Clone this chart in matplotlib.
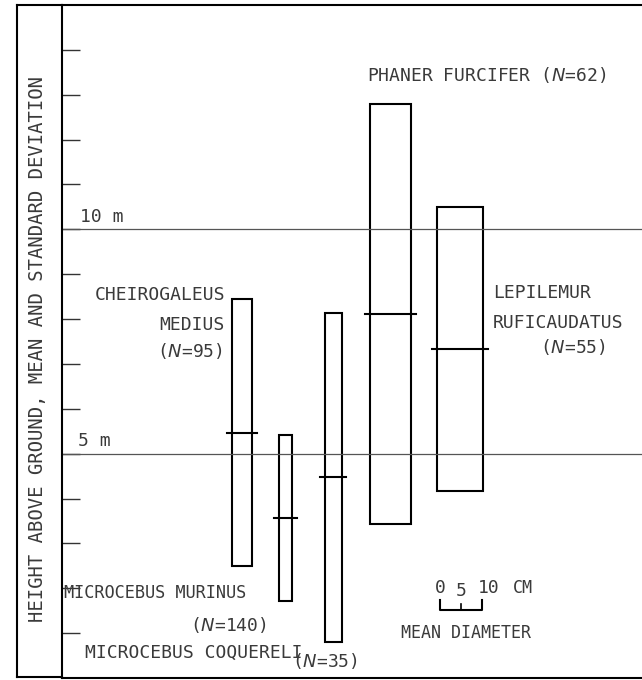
import matplotlib
matplotlib.use("Agg")
from matplotlib import pyplot as plt
from matplotlib.lines import Line2D
from matplotlib.patches import Rectangle

# %%
# height above ground (m): mean and standard deviation, mean trunk diameter (cm)
species = ["CHEIROGALEUS MEDIUS", "MICROCEBUS MURINUS", "MICROCEBUS COQUERELI",
           "PHANER FURCIFER", "LEPILEMUR RUFICAUDATUS"]
n_obs = [95, 140, 35, 62, 55]
mean_height = [5.47, 3.56, 4.47, 8.11, 7.33]
sd_height = [2.97, 1.85, 3.67, 4.68, 3.17]
diameter_cm = [4.8, 3.1, 4.0, 9.8, 11.0]

# horizontal placement of each box (cm from the axis, layout only)
box_x = [42.9, 53.2, 64.6, 78.2, 94.8]

FONT = "DejaVu Sans Mono"
TXT = "#3a3a3a"
FS = 13

plt.rcParams["font.family"] = [FONT, "DejaVu Sans"]

fig = plt.figure(figsize=(6.42, 6.80), dpi=100)
W, H = 642, 680
ax = fig.add_axes([62 / W, 1 - 678 / H, (W - 62) / W, (678 - 5) / H])
ax.set_xlim(0, 580 / 4.2)
ax.set_ylim(0, 15)

for side in ["left", "top", "bottom"]:
    ax.spines[side].set_linewidth(1.5)
ax.spines["right"].set_visible(False)
ax.set_xticks([])
ax.set_yticks(range(1, 15))
ax.set_yticklabels([])
ax.tick_params(axis="y", direction="in", length=13, width=1.0, color="#333")

# reference lines at 5 m and 10 m
for h in [5, 10]:
    ax.axhline(h, color="#555", lw=0.9)
ax.text(4.3, 10.08, "10 m", fontsize=FS, color=TXT, va="bottom", ha="left")
ax.text(3.8, 5.08, "5 m", fontsize=FS, color=TXT, va="bottom", ha="left")

# boxes: mean +/- sd, width = mean diameter
for x, m, s, d in zip(box_x, mean_height, sd_height, diameter_cm):
    ax.add_patch(Rectangle((x - d / 2, m - s), d, 2 * s, fill=False,
                           ec="black", lw=1.5))
    ax.plot([x - d / 2 - 1.1, x + d / 2 + 1.1], [m, m], color="black", lw=1.5)

# species labels
ax.text(72.6, 13.45, r"PHANER FURCIFER ($\mathit{N}$=62)", fontsize=FS,
        color=TXT, ha="left", va="center")
ax.text(38.8, 8.54, "CHEIROGALEUS", fontsize=FS, color=TXT, ha="right", va="center")
ax.text(38.8, 7.87, "MEDIUS", fontsize=FS, color=TXT, ha="right", va="center")
ax.text(38.4, 7.29, r"($\mathit{N}$=95)", fontsize=FS, color=TXT, ha="right", va="center")
ax.text(102.6, 8.58, "LEPILEMUR", fontsize=FS, color=TXT, ha="left", va="center")
ax.text(102.6, 7.91, "RUFICAUDATUS", fontsize=FS, color=TXT, ha="left", va="center")
ax.text(113.8, 7.38, r"($\mathit{N}$=55)", fontsize=FS, color=TXT, ha="left", va="center")
ax.text(0.5, 1.89, "MICROCEBUS MURINUS", fontsize=12.2, color=TXT, ha="left", va="center")
ax.text(30.5, 1.18, r"($\mathit{N}$=140)", fontsize=FS, color=TXT, ha="left", va="center")
ax.text(5.5, 0.56, "MICROCEBUS COQUERELI", fontsize=FS, color=TXT, ha="left", va="center")
ax.text(54.8, 0.38, r"($\mathit{N}$=35)", fontsize=FS, color=TXT, ha="left", va="center")

# diameter scale bar (0-10 cm)
bar_y, bar_top = 1.52, 1.74
ax.plot([90, 90, 100, 100], [bar_top, bar_y, bar_y, bar_top], color="black", lw=1.5)
ax.plot([95, 95], [bar_y, 1.64], color="black", lw=1.2)
ax.text(90, 2.0, "0", fontsize=FS, color=TXT, ha="center", va="center")
ax.text(95, 1.93, "5", fontsize=FS, color=TXT, ha="center", va="center")
ax.text(101.6, 2.0, "10", fontsize=FS, color=TXT, ha="center", va="center")
ax.text(107.4, 2.0, "CM", fontsize=FS - 1, color=TXT, ha="left", va="center")
ax.text(96.2, 1.0, "MEAN DIAMETER", fontsize=FS - 1, color=TXT, ha="center", va="center")

# outer frame holding the axis title
fig.lines.append(Line2D([17 / W, 17 / W], [1 - 677 / H, 1 - 5 / H],
                        transform=fig.transFigure, color="black", lw=1.5))
fig.lines.append(Line2D([17 / W, 62 / W], [1 - 5 / H, 1 - 5 / H],
                        transform=fig.transFigure, color="black", lw=1.5))
fig.lines.append(Line2D([17 / W, 62 / W], [1 - 677 / H, 1 - 677 / H],
                        transform=fig.transFigure, color="black", lw=1.5))
fig.text(38 / W, 1 - 349 / H, "HEIGHT ABOVE GROUND, MEAN AND STANDARD DEVIATION",
         rotation=90, fontsize=13.6, color=TXT, ha="center", va="center")

fig.savefig("out.png", dpi=100)
